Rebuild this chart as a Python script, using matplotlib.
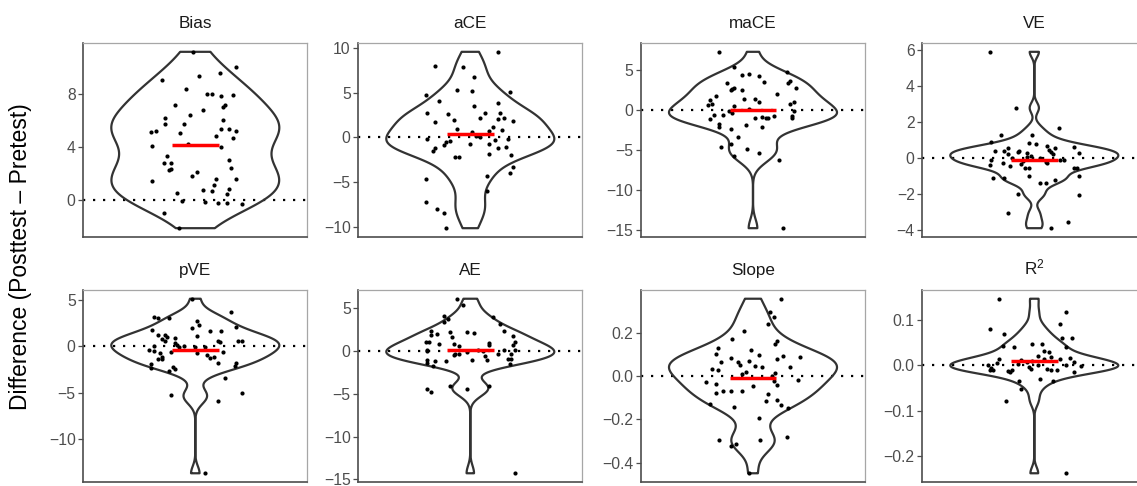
import matplotlib
matplotlib.use("Agg")
import matplotlib.pyplot as plt
import numpy as np

plt.rcParams['font.family'] = ['Liberation Sans', 'DejaVu Sans']

# panel names (in facet order)
titles = ["Bias", "aCE", "maCE", "VE", "pVE", "AE", "Slope", r"$\mathregular{R^2}$"]

# posttest - pretest differences
bias = [11.19, 10.06, 9.08, 9.36, 9.58, 8.38, 8.03, 7.97, 7.82, 7.92, 7.17, 7.17, 7.02, 6.79,
        6.42, 6.16, 5.71, 5.74, 6.01, 5.11, 5.23, 5.06, 5.36, 5.36, 5.23, 4.78, 4.65, 4.03,
        4.23, 3.95, 3.27, 2.74, 2.74, 2.99, 2.42, 2.24, 2.29, 2.09, 1.81, 1.41, 1.53, 1.53,
        1.13, 0.50, 0.70, 0.65, 0.78, 0.40, -0.10, -0.15, -0.25, -0.23, -0.35, -0.98, -2.16]
ace = [9.59, 8.03, 7.84, 6.77, 4.76, 5.35, 5.20, 5.06, 4.13, 3.57, 3.90, 2.71, 2.64, 2.75,
       2.71, 2.16, 2.23, 2.12, 1.78, 2.01, 1.90, 0.97, 0.63, 1.19, 0.86, 0.74, -0.22, -0.89,
       -1.15, -1.56, -0.52, -0.41, -0.74, 0.04, 0.15, -0.74, -0.33, -1.12, -1.04, -0.22,
       -1.82, -2.16, -2.19, -1.97, -3.35, -4.01, -4.31, -4.61, -5.95, -7.21, -8.03, -8.48, -10.15]
mace = [7.29, 5.38, 4.79, 4.54, 4.33, 4.25, 3.58, 3.38, 3.46, 3.33, 2.79, 2.63, 2.46, 2.50,
        2.75, 1.75, 1.96, 1.42, 1.33, 1.00, 1.21, 0.71, 0.63, 0.96, 0.75, 0.46, -0.17, -0.42,
        0.17, -0.08, -0.58, -0.67, -1.17, -0.75, -0.92, -0.96, -0.96, -1.04, -0.75, -1.04,
        -1.79, -2.08, -1.92, -2.13, -2.33, -3.42, -4.71, -4.25, -4.88, -5.42, -5.83, -6.25, -14.83]
ve = [5.89, 2.78, 1.69, 1.29, 1.25, 0.88, 0.85, 0.79, 0.63, 0.64, 0.55, 0.55, 0.39, 0.39,
      0.33, 0.41, 0.28, 0.42, 0.22, 0.26, 0.35, 0.11, 0.04, 0.20, -0.02, 0.00, -0.09, -0.09,
      -0.11, -0.17, -0.22, -0.37, -0.29, -0.44, -0.33, -0.26, -0.57, -0.57, -0.55, -0.55,
      -0.99, -1.01, -1.10, -1.09, -1.22, -1.40, -1.40, -1.97, -2.06, -3.04, -3.55, -3.89]
pve = [5.09, 3.64, 3.18, 3.01, 3.01, 2.65, 2.26, 1.95, 2.09, 1.73, 1.66, 1.66, 1.20, 1.20,
       0.96, 1.06, 0.92, 0.81, 0.53, 0.39, 0.60, 0.57, 0.57, 0.46, 0.00, 0.11, -0.10, 0.00,
       -0.11, -0.07, -0.46, -0.53, -0.60, -0.71, -0.60, -0.71, -1.13, -1.41, -1.38, -0.96,
       -1.31, -1.17, -1.77, -1.87, -2.30, -1.80, -2.09, -2.19, -2.44, -2.65, -3.43, -5.06,
       -5.27, -5.84, -13.65]
ae = [6.07, 5.30, 4.03, 3.76, 3.92, 3.30, 3.07, 2.34, 2.34, 2.23, 2.23, 2.07, 1.88, 2.00,
      1.65, 1.77, 1.07, 1.00, 1.00, 0.92, 0.77, 0.77, 0.69, 0.65, 0.54, 0.15, -0.04, 0.15,
      0.04, 0.08, -0.04, -0.15, -0.35, -0.46, -0.42, -0.42, -0.38, -0.65, -0.96, -1.00,
      -1.07, -1.23, -1.11, -1.11, -1.38, -1.19, -1.57, -1.73, -4.07, -4.15, -4.42, -4.76,
      -4.49, -14.28]
slope = [0.357, 0.294, 0.272, 0.239, 0.207, 0.170, 0.163, 0.149, 0.131, 0.122, 0.103, 0.099,
         0.088, 0.091, 0.084, 0.079, 0.065, 0.070, 0.064, 0.049, 0.046, 0.041, 0.044, 0.032,
         0.026, 0.017, 0.011, 0.012, 0.002, -0.021, -0.018, -0.027, -0.040, -0.038, -0.046,
         -0.078, -0.068, -0.071, -0.071, -0.084, -0.110, -0.117, -0.134, -0.131, -0.144,
         -0.148, -0.196, -0.281, -0.295, -0.294, -0.325, -0.313, -0.449]
r2 = [0.148, 0.118, 0.092, 0.080, 0.070, 0.062, 0.061, 0.043, 0.040, 0.040, 0.048, 0.047,
      0.033, 0.029, 0.020, 0.015, 0.012, 0.011, 0.015, 0.014, 0.016, 0.018, 0.002, 0.005,
      0.003, 0.007, 0.007, -0.002, 0.001, -0.006, -0.009, -0.009, -0.012, -0.015, -0.003,
      -0.007, 0.000, -0.008, -0.011, -0.010, -0.014, -0.029, -0.034, -0.035, -0.053,
      -0.078, -0.239, -0.010]

# horizontal jitter of each point (offset from the violin centre)
bias_jit = [-0.01, 0.22, -0.18, 0.02, 0.13, -0.05, 0.06, 0.09, 0.14, 0.20, -0.11, 0.16, 0.15,
            0.04, -0.03, -0.16, -0.16, -0.06, 0.15, -0.24, -0.21, -0.08, 0.14, 0.18, 0.22,
            0.11, 0.20, -0.23, -0.04, 0.14, -0.15, -0.17, -0.13, 0.18, 0.19, -0.14, -0.13,
            0.01, -0.02, -0.23, 0.22, 0.11, 0.10, -0.10, 0.04, 0.09, 0.18, 0.17, -0.07, 0.05,
            0.12, 0.17, 0.25, -0.17, -0.09]
ace_jit = [0.15, -0.19, -0.04, 0.02, -0.24, -0.07, 0.01, 0.21, -0.17, 0.02, 0.15, -0.23, -0.12,
           0.08, 0.16, 0.18, 0.05, 0.15, -0.19, -0.09, 0.23, -0.07, 0.01, 0.12, 0.17, 0.10,
           -0.23, -0.14, -0.19, -0.20, -0.13, -0.11, 0.00, 0.05, 0.03, 0.10, 0.13, 0.15, 0.19,
           0.20, 0.10, -0.08, -0.06, 0.22, 0.23, 0.21, 0.09, -0.24, 0.09, -0.24, -0.18, -0.14,
           -0.13]
mace_jit = [-0.18, -0.10, 0.18, -0.02, -0.06, 0.03, 0.20, 0.19, 0.06, -0.14, -0.10, -0.11,
            -0.12, -0.06, 0.23, -0.20, 0.13, -0.05, 0.01, 0.03, -0.23, -0.22, -0.24, 0.22,
            0.20, -0.10, -0.13, -0.11, -0.02, 0.22, -0.21, -0.16, -0.23, 0.11, 0.05, 0.07,
            0.08, 0.01, 0.21, 0.21, -0.18, -0.18, -0.04, 0.05, -0.12, -0.08, -0.17, -0.12,
            -0.03, 0.03, -0.10, 0.14, 0.16]
ve_jit = [-0.24, -0.10, 0.13, -0.01, -0.18, -0.23, -0.03, 0.01, 0.21, 0.07, 0.11, -0.14, -0.21,
          -0.16, -0.09, -0.08, 0.24, 0.08, -0.14, -0.04, 0.09, -0.02, -0.04, 0.10, 0.03, -0.12,
          -0.23, 0.14, 0.16, -0.06, 0.06, -0.24, -0.17, -0.13, -0.07, 0.07, -0.05, -0.03, 0.21,
          0.23, -0.03, 0.24, -0.22, -0.16, 0.11, 0.03, 0.06, -0.09, 0.24, -0.14, 0.18, 0.09]
pve_jit = [-0.02, 0.19, -0.22, -0.20, -0.14, 0.01, 0.02, -0.02, 0.22, -0.23, 0.14, 0.08, -0.20,
           -0.16, -0.15, 0.01, -0.11, -0.18, -0.16, -0.11, 0.23, 0.25, 0.12, 0.13, -0.22, -0.10,
           -0.09, -0.06, 0.00, 0.05, -0.25, -0.22, -0.13, 0.01, 0.15, -0.19, -0.18, -0.20, -0.18,
           0.06, 0.08, 0.10, 0.12, -0.24, -0.24, 0.22, 0.21, -0.12, -0.11, -0.14, 0.16, 0.25,
           -0.13, 0.12, 0.05]
ae_jit = [-0.07, -0.04, -0.14, -0.12, 0.12, -0.14, 0.16, 0.18, -0.21, -0.11, -0.02, 0.02, -0.21,
          -0.18, -0.10, 0.23, -0.24, -0.22, 0.24, 0.10, -0.09, -0.17, 0.23, 0.10, -0.06, -0.23,
          -0.23, 0.18, 0.24, 0.04, 0.07, -0.02, -0.08, -0.09, -0.06, 0.15, 0.22, 0.08, 0.20,
          0.22, 0.01, -0.13, 0.09, -0.23, -0.23, -0.19, 0.21, -0.20, -0.11, 0.10, -0.23, -0.21,
          -0.02, 0.24]
slope_jit = [0.15, 0.09, 0.11, 0.08, -0.05, -0.11, 0.13, 0.12, -0.19, -0.01, -0.20, 0.03, 0.25,
             0.16, -0.12, 0.13, -0.17, -0.02, -0.08, -0.07, 0.01, 0.05, 0.20, -0.22, -0.19,
             -0.04, -0.06, 0.12, 0.10, 0.11, 0.24, -0.25, 0.13, -0.20, 0.00, -0.20, -0.16,
             -0.12, -0.06, 0.08, 0.13, 0.07, 0.15, -0.23, -0.10, 0.19, 0.03, 0.18, -0.18, 0.04,
             -0.12, -0.09, -0.02]
r2_jit = [-0.19, 0.17, 0.14, -0.24, -0.16, 0.15, 0.20, -0.17, 0.17, -0.11, -0.01, 0.04, 0.05,
          0.08, 0.02, -0.19, -0.07, -0.01, 0.05, 0.14, 0.19, 0.09, -0.25, -0.20, -0.09, -0.04,
          0.21, 0.25, 0.17, -0.23, -0.22, -0.12, -0.14, -0.13, -0.03, -0.02, 0.02, 0.07, 0.09,
          0.12, 0.21, 0.03, 0.10, -0.08, -0.07, -0.15, 0.17, -0.24]

values = [bias, ace, mace, ve, pve, ae, slope, r2]
jitters = [bias_jit, ace_jit, mace_jit, ve_jit, pve_jit, ae_jit, slope_jit, r2_jit]

# y tick labels per panel
yticks = [[0, 4, 8], [-10, -5, 0, 5, 10], [-15, -10, -5, 0, 5], [-4, -2, 0, 2, 4, 6],
          [-10, -5, 0, 5], [-15, -10, -5, 0, 5], [-0.4, -0.2, 0.0, 0.2], [-0.2, -0.1, 0.0, 0.1]]
ytick_labels = [["0", "4", "8"], ["−10", "−5", "0", "5", "10"], ["−15", "−10", "−5", "0", "5"],
                ["−4", "−2", "0", "2", "4", "6"], ["−10", "−5", "0", "5"],
                ["−15", "−10", "−5", "0", "5"], ["−0.4", "−0.2", "0.0", "0.2"],
                ["−0.2", "−0.1", "0.0", "0.1"]]


def nrd0_factor(v):
    # R's bw.nrd0, expressed as a factor of the sample sd (what matplotlib's kde wants)
    v = np.asarray(v)
    sd = v.std(ddof=1)
    iqr = np.subtract(*np.percentile(v, [75, 25]))
    bw = 0.9 * min(sd, iqr / 1.34) * len(v) ** -0.2
    return bw / sd


W, H = 1137, 486
fig = plt.figure(figsize=(W / 100, H / 100), dpi=100)

col_left = [83.3, 358.3, 641, 922.3]
panel_w = 224
rows = [(43, 237), (290, 482)]

for i in range(8):
    r, c = divmod(i, 4)
    top, bot = rows[r]
    ax = fig.add_axes([col_left[c] / W, 1 - bot / H, panel_w / W, (bot - top) / H])
    v = np.array(values[i])

    parts = ax.violinplot([v], positions=[1], widths=0.9, showextrema=False,
                          bw_method=nrd0_factor(v), points=512)
    for b in parts['bodies']:
        b.set_facecolor('none')
        b.set_edgecolor('#333333')
        b.set_linewidth(1.6)
        b.set_alpha(1)
        b.set_zorder(2)

    ax.axhline(0, color='black', ls=(0, (1, 3.5)), lw=1.6, zorder=1)
    ax.scatter(1 + np.array(jitters[i]), v, s=9, color='black', zorder=3, linewidths=0)
    ax.hlines(v.mean(), 0.875, 1.125, color='red', lw=2.5, zorder=4)

    lo, hi = v.min(), v.max()
    pad = 0.05 * (hi - lo)
    ax.set_ylim(lo - pad, hi + pad)
    ax.set_xlim(0.4, 1.6)
    ax.set_xticks([])
    ax.set_yticks(yticks[i])
    ax.set_yticklabels(ytick_labels[i])
    ax.tick_params(axis='y', length=3.5, width=0.9, color='#4d4d4d', labelcolor='#4d4d4d',
                   labelsize=11.3, pad=2)
    for s in ['left', 'bottom']:
        ax.spines[s].set_color('#4d4d4d')
        ax.spines[s].set_linewidth(1.2)
    for s in ['top', 'right']:
        ax.spines[s].set_color('#a6a6a6')
        ax.spines[s].set_linewidth(0.9)
    ax.set_title(titles[i], fontsize=12.3, color='#1a1a1a', pad=11)

fig.text(21 / W, 1 - 257 / H, "Difference (Posttest – Pretest)", rotation=90,
         ha='center', va='center', fontsize=16.5)

fig.savefig("out.png", dpi=100)
